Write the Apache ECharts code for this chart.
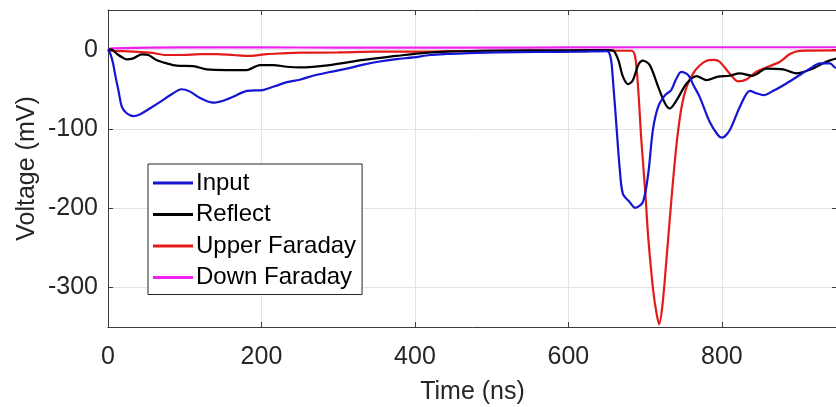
<!DOCTYPE html>
<html>
<head>
<meta charset="utf-8">
<script src="https://cdn.jsdelivr.net/npm/echarts@6/dist/echarts.min.js"></script>
<style>
  html, body { margin: 0; padding: 0; background: #fff; }
  #chart { width: 836px; height: 407px; }
</style>
</head>
<body>
<div id="chart"></div>
<script>
// values (time in ns, voltage in mV)
var inputT = [0, 3, 6.5, 10, 13.5, 18, 24, 33, 42, 55, 68, 81, 96, 107, 120, 137, 150, 163, 181, 202, 218, 233, 250, 267, 290, 311, 333, 354, 376, 398, 420, 441, 463, 506, 560, 615, 650, 655, 658, 663, 667, 671, 680, 687, 697, 704, 710, 717, 726, 734, 740, 747, 756, 763, 771, 784, 795, 800, 810, 823.5, 836.5, 845, 854, 867, 884, 901.6, 915, 928, 941, 947, 950];
var inputV = [0, -5, -17, -35, -51, -72, -80, -84, -81.5, -74, -66, -57.5, -50, -53, -61, -67, -64.5, -59.6, -52, -51, -46, -41, -38, -33, -28, -24, -19, -15, -12, -9.8, -6.8, -5.5, -4.7, -3.5, -3, -2.6, -2, -10, -38, -102, -152, -182, -192.5, -199.6, -192.5, -156.6, -101.8, -72, -57.5, -51, -38, -28, -32, -45, -59.6, -91, -108, -111, -102, -72, -52, -55, -57.5, -52, -42.7, -32, -23.7, -17.4, -17.4, -22.4, -23];

var reflectT = [0, 5, 9, 13.5, 19, 24, 33, 44, 52.5, 63, 76.5, 89.5, 111, 128.6, 154.7, 180.7, 198, 215, 233, 250, 289, 333, 376, 406, 441, 485, 550, 600, 650, 658, 665, 671, 678, 684, 691, 697, 706, 717, 726, 732, 741, 754, 767, 780, 795, 810, 823, 840, 858, 880, 897, 919, 936, 950];
var reflectV = [0, 0, -3, -6.8, -10, -12.3, -11, -6, -6.8, -13, -17.4, -20.3, -20.8, -25, -25.8, -25.8, -19.5, -19.5, -21.6, -22.4, -19.5, -13, -8, -4.7, -2.6, -1.4, -1, -1, -0.5, -1, -13, -34, -43.5, -38.5, -19.5, -14, -19.5, -47, -68, -74.3, -63.8, -42.7, -33.4, -38.5, -34, -33, -30, -33, -24, -25, -30, -23.7, -15.3, -11];

var upperT = [0, 3, 20, 33, 55, 76.5, 98, 120, 141.6, 163, 185, 207, 228, 250, 300, 350, 400, 450, 500, 600, 682, 687, 691, 695, 700, 704, 710.5, 715, 718.3, 722.7, 728, 734.5, 741, 747.5, 754, 762.6, 771, 780, 790, 797, 810, 821, 832, 845, 862.5, 875.6, 888.6, 901.6, 950];
var upperV = [0, -1.4, -2, -2.6, -3.9, -6.8, -6.8, -5.6, -5.6, -6.8, -8, -5.6, -4.7, -3.9, -3.5, -2.6, -2.6, -2, -1.4, -1.4, -1.4, -9, -51, -114, -177.7, -236.8, -304, -333.8, -346.5, -321, -262, -186, -118.6, -72, -47, -30, -20, -14, -13, -15.3, -30, -40, -37.6, -28, -20.8, -15.3, -5.6, -1.5, -1];

var downT = [0, 5, 100, 200, 300, 400, 500, 600, 700, 800, 900, 950];
var downV = [0, 1.5, 2.8, 2.8, 2.5, 2.5, 2.5, 2.8, 3, 3, 3, 3];

var names = ["Input", "Reflect", "Upper Faraday", "Down Faraday"];
var colors = ["#1414d2", "#000000", "#e31a1a", "#f020f0"];

function pairs(t, v) {
  var out = [];
  for (var i = 0; i < t.length; i++) out.push([t[i], v[i]]);
  return out;
}

var font = "'Liberation Sans', Arial, Helvetica, sans-serif";
var axisColor = "#3a3a3a";

var chart = echarts.init(document.getElementById("chart"));
var lists = [[inputT, inputV], [reflectT, reflectV], [upperT, upperV], [downT, downV]];

chart.setOption({
  animation: false,
  backgroundColor: "#fff",
  grid: { left: 108, top: 10, right: -1, bottom: 80, outerBoundsMode: "none" },
  legend: {
    orient: "vertical",
    left: 148,
    top: 164,
    padding: [7, 6, 5, 5],
    itemGap: 7.5,
    itemWidth: 40,
    itemHeight: 3,
    icon: "rect",
    backgroundColor: "#fff",
    borderColor: "#262626",
    borderWidth: 1,
    borderRadius: 0,
    textStyle: { fontSize: 24, color: "#000", fontFamily: font, padding: [0, 0, 0, -2] },
    data: names
  },
  xAxis: [
    {
      type: "value", min: 0, max: 950, interval: 200,
      name: "Time (ns)", nameLocation: "middle", nameGap: 53,
      nameTextStyle: { fontSize: 25, color: "#262626", fontFamily: font },
      axisLine: { onZero: false, lineStyle: { color: axisColor } },
      axisTick: { inside: true, length: 5, lineStyle: { color: axisColor } },
      axisLabel: { fontSize: 25, color: "#262626", fontFamily: font, margin: 18, showMaxLabel: false },
      splitLine: { show: true, lineStyle: { color: "#e3e3e3" } }
    },
    {
      type: "value", min: 0, max: 950, interval: 200, position: "top",
      axisLine: { show: true, onZero: false, lineStyle: { color: axisColor } },
      axisTick: { inside: true, length: 5, lineStyle: { color: axisColor } },
      axisLabel: { show: false },
      splitLine: { show: false }
    }
  ],
  yAxis: [
    {
      type: "value", min: -350, max: 50, splitNumber: 4,
      name: "Voltage (mV)", nameLocation: "middle", nameGap: 68, nameMoveOverlap: false,
      nameTextStyle: { fontSize: 25, color: "#262626", fontFamily: font },
      axisLine: { show: true, onZero: false, lineStyle: { color: axisColor } },
      axisTick: { show: true, inside: true, length: 5, lineStyle: { color: axisColor } },
      axisLabel: { fontSize: 25, color: "#262626", fontFamily: font, margin: 10, showMinLabel: false, showMaxLabel: false },
      splitLine: { show: true, lineStyle: { color: "#e3e3e3" } }
    },
    {
      type: "value", min: -350, max: 50, splitNumber: 4, position: "right",
      axisLine: { show: true, onZero: false, lineStyle: { color: axisColor } },
      axisTick: { show: true, inside: true, length: 5, lineStyle: { color: axisColor } },
      axisLabel: { show: false },
      splitLine: { show: false }
    }
  ],
  series: lists.map(function (d, i) {
    return {
      name: names[i],
      type: "line",
      xAxisIndex: 0,
      yAxisIndex: 0,
      symbol: "none",
      smooth: 0.3,
      z: i === 3 ? 1 : 4 - i,
      lineStyle: { width: 2.2, color: colors[i] },
      itemStyle: { color: colors[i] },
      data: pairs(d[0], d[1])
    };
  })
});
</script>
</body>
</html>
